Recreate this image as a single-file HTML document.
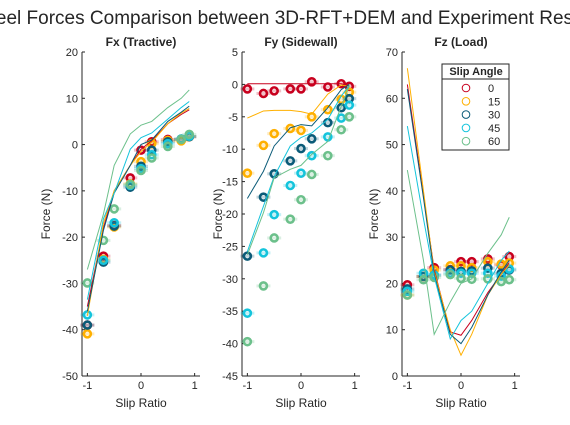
<!DOCTYPE html>
<html><head><meta charset="utf-8"><style>
body{margin:0;background:#fff;overflow:hidden}
svg text{font-family:"Liberation Sans",sans-serif;fill:#262626}
</style></head><body>
<svg id="c" width="570" height="420" viewBox="0 0 570 420">
<text x="285" y="24" font-size="19" text-anchor="middle">Wheel Forces Comparison between 3D-RFT+DEM and Experiment Results</text>
</svg>
<script>
const slip=[-1,-0.7,-0.5,-0.2,0,0.2,0.5,0.75,0.9];
const angles=['0','15','30','45','60'];
const colors=['#c8001e','#ffb000','#0b5b78','#14c4dc','#6cc08b'];
const fxExp=[[-39,-24.1,-17.5,-7.2,-1.2,0.6,1.1,1.1,1.7],[-40.9,-24.8,-17.8,-8.5,-3.7,0.2,0.9,0.8,1.7],[-39,-25.4,-17.6,-9.2,-4.7,-1.2,0.6,1.2,1.7],[-36.8,-25,-16.9,-8.8,-5.2,-2.2,0.2,1.2,1.8],[-29.9,-20.7,-13.9,-8.6,-5.6,-2.9,-0.4,1.1,2.2]];
const fxSim=[[-35,-18,-10,-4.5,-1,0.8,4.5,6.5,7.5],[-37,-17,-10,-4.5,-1.5,0.5,4.5,6.8,7.8],[-36,-18.5,-10.5,-4.5,0,1,5,7,8.3],[-33.5,-16,-10.5,-1,1.5,2.5,5.5,8,9.3],[-27,-15,-4.5,2.3,4.2,5,8,10,11.8]];
const fyExp=[[-0.7,-1.4,-1,-0.7,-0.7,0.4,-0.4,0.1,-0.3],[-13.7,-9.4,-7.6,-6.8,-7.1,-5,-3.9,-2.3,-1.2],[-26.5,-17.4,-13.8,-11.8,-9.9,-8.4,-5.9,-3.6,-2.2],[-35.3,-26,-20.1,-15.6,-13.7,-11,-8.1,-5.2,-3.2],[-39.7,-31.1,-23.7,-20.8,-17.8,-13.9,-11,-7,-5]];
const fySim=[[0.1,0.1,0.1,0.1,0.1,0.1,0.1,0.1,-0.2],[-5.2,-4.1,-4,-4,-4.2,-4.6,-1.5,-0.1,-0.3],[-17.6,-13.4,-9.5,-6.7,-6.2,-6.4,-3.6,-0.8,0],[-25.8,-18.8,-14.2,-9.5,-8.2,-7.5,-5.4,-1.8,-0.2],[-26.3,-19.8,-14.4,-13.1,-12.5,-10.8,-8.8,-3.4,-0.3]];
const fzExp=[[19.7,21.5,23.4,23,24.7,24.7,25.3,24,25.8],[17.5,21.5,22.9,23.8,23.8,23.4,24.7,24.2,24.4],[18.8,21.5,21.8,22.9,22.6,22.7,23.3,22.2,22.9],[18.3,22.2,21.8,22.2,22.2,22.2,22.2,21.6,23.1],[17.5,20.8,21.3,21.9,21.1,20.9,21,20.4,20.8]];
const fzSim=[[63,39,23,9.5,8.8,12,18,22,24.5],[66.5,40,22.5,10,4.5,9,17.5,22,24],[62,38.5,22,9,7,10.5,17.5,22.5,25],[54,34,21.5,8,12,14,20,25,27],[44.5,25,9,16,20,21,26.5,30.5,34.3]];
const panels=[
 {name:'fx',title:'Fx (Tractive)',left:82,ymin:-50,ymax:20,step:10,exp:fxExp,sim:fxSim,yl:50},
 {name:'fy',title:'Fy (Sidewall)',left:242,ymin:-45,ymax:5,step:5,exp:fyExp,sim:fySim,yl:222},
 {name:'fz',title:'Fz (Load)',left:402,ymin:0,ymax:70,step:10,exp:fzExp,sim:fzSim,yl:378}];
const NS='http://www.w3.org/2000/svg',svgEl=document.getElementById('c');
function mk(t,a,p){const e=document.createElementNS(NS,t);for(const k in a)e.setAttribute(k,a[k]);(p||svgEl).appendChild(e);return e;}
const plotTop=52,plotBot=376,W=118;
panels.forEach(P=>{
 const g=mk('g',{});
 
 
 const sx=v=>P.left+(v+1.1)/2.2*W;
 const sy=v=>plotBot-(v-P.ymin)/(P.ymax-P.ymin)*(plotBot-plotTop);
 const t=mk('text',{x:P.left+W/2,y:46,'font-size':12,'font-weight':'bold','text-anchor':'middle'},g);t.textContent=P.title;
 
 
 mk('line',{x1:P.left,y1:plotTop,x2:P.left,y2:plotBot,stroke:'#262626'},g);
 mk('line',{x1:P.left,y1:plotBot,x2:P.left+W,y2:plotBot,stroke:'#262626'},g);
 for(let v=P.ymin;v<=P.ymax;v+=P.step){const y=sy(v);
  mk('line',{x1:P.left,y1:y,x2:P.left+3,y2:y,stroke:'#262626'},g);
  const l=mk('text',{x:P.left-4,y:y+4,'font-size':11,'text-anchor':'end'},g);l.textContent=v;
  
  }
 [-1,0,1].forEach(v=>{const x=sx(v);
  mk('line',{x1:x,y1:plotBot,x2:x,y2:plotBot-3,stroke:'#262626'},g);
  const l=mk('text',{x:x,y:plotBot+13,'font-size':11,'text-anchor':'middle'},g);l.textContent=v;
  
  });
 const xl=mk('text',{x:P.left+W/2,y:407,'font-size':12,'text-anchor':'middle'},g);xl.textContent='Slip Ratio';
 
 
 const yl=mk('text',{x:P.yl,y:214,'font-size':12,'text-anchor':'middle',transform:`rotate(-90 ${P.yl} 214)`},g);yl.textContent='Force (N)';
 
 
 P.exp.forEach((s,i)=>{s.forEach((v,j)=>{
   const eb=mk('line',{x1:sx(slip[j])-7,y1:sy(v),x2:sx(slip[j])+7,y2:sy(v),stroke:colors[i],'stroke-opacity':0.25,'stroke-width':3},g);
   
   
   const c=mk('circle',{cx:sx(slip[j]),cy:sy(v),r:3.5,fill:'none',stroke:colors[i],'stroke-width':2.6},g);
   
   });});
 P.sim.forEach((s,i)=>{
   const p=mk('polyline',{points:s.map((v,j)=>sx(slip[j])+','+sy(v)).join(' '),fill:'none',stroke:colors[i],'stroke-width':1},g);
   
   });
});
const lg=mk('g',{});


mk('rect',{x:442,y:64,width:67,height:86,fill:'#fff',stroke:'#262626','stroke-width':1},lg);
mk('line',{x1:442,y1:79,x2:509,y2:79,stroke:'#262626'},lg);
const lh=mk('text',{x:476,y:75,'font-size':11,'font-weight':'bold','text-anchor':'middle'},lg);lh.textContent='Slip Angle';
angles.forEach((a,i)=>{const y=88+i*13.3;
 const e=mk('g',{},lg);
 
 
 mk('circle',{cx:466,cy:y,r:3.8,fill:'none',stroke:colors[i],'stroke-width':1},e);
 const t=mk('text',{x:488,y:y+4,'font-size':11},e);t.textContent=a;});
</script>
</body></html>
